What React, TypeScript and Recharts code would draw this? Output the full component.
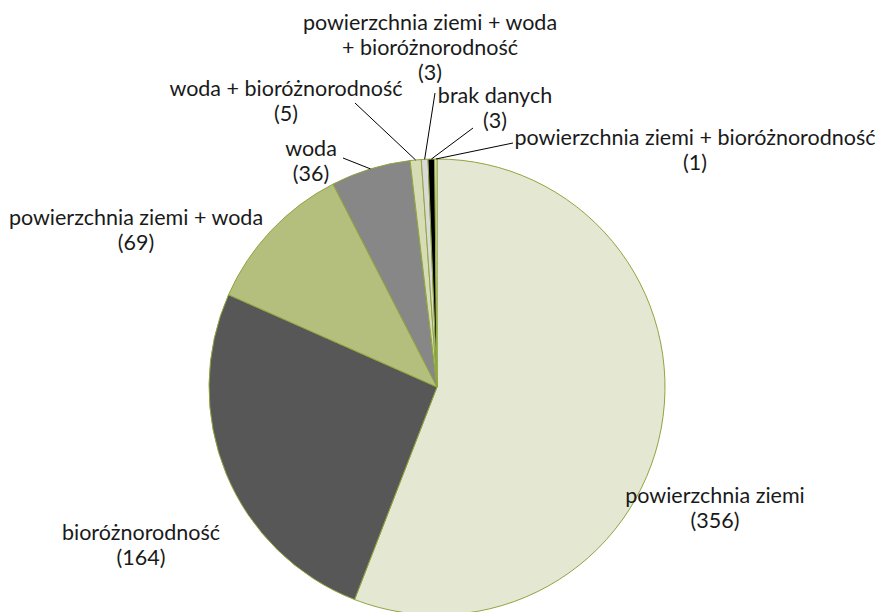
import { PieChart, Pie, Cell } from 'recharts';

// categories and counts, clockwise from 12 o'clock
const categories = [
  'powierzchnia ziemi',
  'bioróżnorodność',
  'powierzchnia ziemi + woda',
  'woda',
  'woda + bioróżnorodność',
  'powierzchnia ziemi + woda + bioróżnorodność',
  'brak danych',
  'powierzchnia ziemi + bioróżnorodność',
];
const counts = [356, 164, 69, 36, 5, 3, 3, 1];

// how each category name is broken onto lines in the label
const labelLines = [
  ['powierzchnia ziemi'],
  ['bioróżnorodność'],
  ['powierzchnia ziemi + woda'],
  ['woda'],
  ['woda + bioróżnorodność'],
  ['powierzchnia ziemi + woda', '+ bioróżnorodność'],
  ['brak danych'],
  ['powierzchnia ziemi + bioróżnorodność'],
];

const colors = ['#e4e7d2', '#575757', '#b4bf7e', '#878787', '#d7dcb6', '#dadada', '#000000', '#eef0e2'];

// label placement relative to the pie centre; lineTo = end of leader line (null = no line)
const labelLayout: { dx: number; dy: number; lineTo: [number, number] | null }[] = [
  { dx: 278, dy: 108, lineTo: null },
  { dx: -296, dy: 145, lineTo: null },
  { dx: -301, dy: -170, lineTo: null },
  { dx: -126, dy: -239, lineTo: [-94, -229] },
  { dx: -151, dy: -299, lineTo: [-82, -284] },
  { dx: -7, dy: -365, lineTo: [-2, -294] },
  { dx: 58, dy: -292, lineTo: [36, -259] },
  { dx: 258, dy: -250, lineTo: [76, -244] },
];

const data = categories.map((name, i) => ({ name, value: counts[i] }));

const RAD = Math.PI / 180;
const LINE_H = 25;

const renderLabel = (props: any) => {
  const { cx, cy, midAngle, outerRadius, index, value } = props;
  const layout = labelLayout[index];
  const tx = cx + layout.dx;
  const ty = cy + layout.dy;
  const lines = [...labelLines[index], `(${value})`];
  let leader = null;
  if (layout.lineTo) {
    const sx = cx + outerRadius * Math.cos(-midAngle * RAD);
    const sy = cy + outerRadius * Math.sin(-midAngle * RAD);
    leader = (
      <line x1={sx} y1={sy} x2={cx + layout.lineTo[0]} y2={cy + layout.lineTo[1]} stroke="#000" strokeWidth={1} />
    );
  }
  return (
    <g key={`lbl-${index}`}>
      {leader}
      <text x={tx} y={ty} textAnchor="middle" fill="#1a1a1a" fontSize={21.5} fontFamily="Lato, sans-serif">
        {lines.map((l, j) => (
          <tspan key={j} x={tx} y={ty + j * LINE_H} dominantBaseline="central">
            {l}
          </tspan>
        ))}
      </text>
    </g>
  );
};

const App = () => {
  return (
    <div style={{ position: 'absolute', left: 0, top: 0, width: 877, height: 612, background: '#fff' }}>
      <PieChart width={877} height={612} margin={{ top: 0, right: 0, bottom: 0, left: 0 }}>
        <Pie
          data={data}
          dataKey="value"
          nameKey="name"
          cx={437}
          cy={387}
          outerRadius={228}
          startAngle={90}
          endAngle={-270}
          stroke="#8ea63e"
          strokeWidth={1}
          label={renderLabel}
          labelLine={false}
          isAnimationActive={false}
        >
          {data.map((d, i) => (
            <Cell key={d.name} fill={colors[i]} />
          ))}
        </Pie>
      </PieChart>
    </div>
  );
};

export default App;
